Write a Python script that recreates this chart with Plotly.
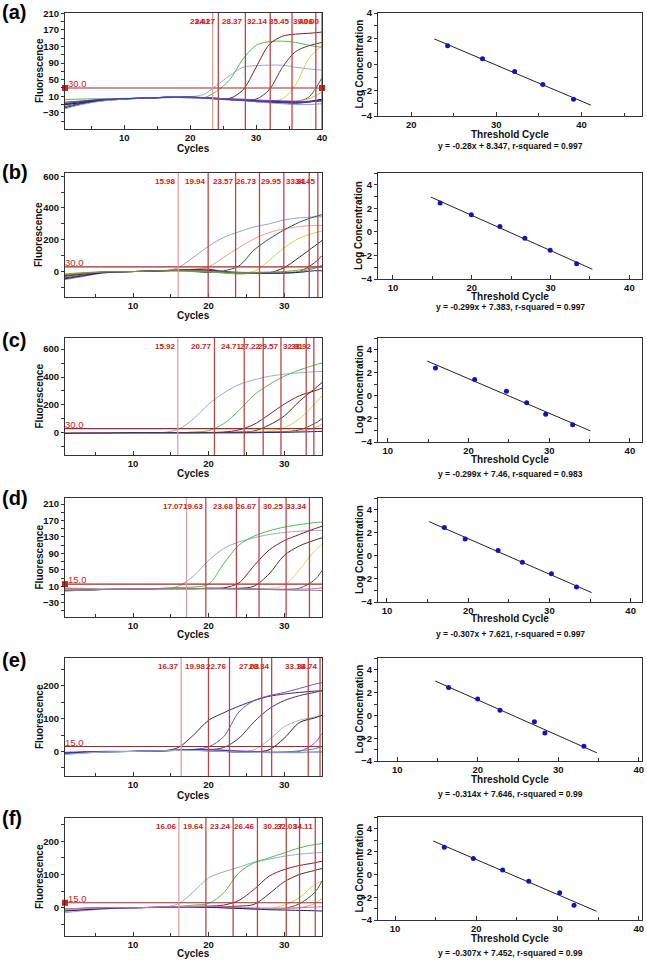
import plotly.graph_objects as go

W, H = 647, 960
FONT = "Liberation Sans, Arial, sans-serif"

# ---------------- amplification data ----------------
a_cycles = [1, 3, 6, 10, 14, 18, 20, 22, 24, 26, 28, 30, 32, 34, 36, 38, 40]
a_curves = [
    [-12, -6, 0, 4, 6, 8, 9, 14, 36, 60, 80, 84, 85, 85, 80, 76, 73],
    [2, 3, 4, 5, 6, 7, 6, 6, 22, 50, 100, 133, 142, 143, 140, 133, 128],
    [-8, -4, 1, 4, 6, 8, 7, 6, 5, 5, 25, 80, 135, 155, 160, 162, 165],
    [-10, -5, 0, 4, 6, 8, 7, 6, 4, 3, 2, 3, 26, 80, 118, 132, 140],
    [-5, -2, 2, 4, 6, 7, 6, 5, 3, 1, 0, -1, -1, 4, 38, 101, 133],
    [-15, -8, -1, 4, 6, 8, 7, 6, 4, 2, 0, -3, -5, -5, -3, 8, 55],
    [-6, -3, 1, 4, 6, 7, 6, 5, 3, 1, -1, -3, -4, -4, -2, 4, 20],
    [-18, -10, -2, 3, 6, 9, 8, 6, 4, 2, 0, -2, -4, -6, -7, -4, 3],
    [-10, -6, 0, 4, 6, 9, 8, 7, 5, 3, 1, -1, -2, -3, -3, -2, 2],
    [-4, -2, 2, 4, 6, 8, 7, 6, 5, 4, 3, 1, 0, -1, -2, -3, -2],
    [-20, -12, -3, 3, 6, 9, 8, 6, 4, 2, 0, -3, -6, -8, -10, -10, -8],
    [-8, -4, 1, 4, 6, 8, 8, 6, 4, 2, 0, -2, -3, -4, -5, -4, 0],
]
a_colors = ["#9aa8d8", "#4cc04c", "#8b1a1a", "#6a3a2a", "#e0c850", "#2e6a3a",
            "#f0a060", "#1a1a80", "#202020", "#9a30c0", "#9aa0a8", "#2040d0"]
a_ct = [23.41, 24.27, 28.37, 32.14, 35.45, 39.06, 40.00]
a_threshold = 30.0

bcf_cycles = [1, 3, 6, 10, 14, 16, 18, 20, 22, 24, 26, 28, 30, 32, 34, 35]

b_curves = [
    [-50, -35, -10, 0, 5, 25, 90, 160, 215, 250, 280, 300, 325, 338, 343, 345],
    [-30, -20, -5, 0, 5, 10, 15, 30, 90, 150, 205, 245, 268, 283, 290, 290],
    [-40, -25, -5, 0, 5, 5, 0, -5, 5, 35, 135, 205, 262, 310, 345, 358],
    [-20, -12, -3, 0, 5, 5, 3, 0, -5, -5, 0, 70, 150, 210, 243, 255],
    [-25, -15, -3, 0, 5, 8, 5, 2, -3, -8, -10, -8, 25, 90, 160, 195],
    [-30, -18, -4, 0, 6, 10, 12, 15, 0, -10, -10, -10, -8, 0, 55, 100],
    [-15, -8, -2, 0, 5, 5, 3, 0, -10, -15, -10, -8, -5, 0, 20, 40],
    [-45, -30, -8, 0, 5, 8, 10, 8, 0, -5, -8, -10, -10, -5, 5, 5],
    [-20, -12, -3, 0, 5, 5, 5, 2, -3, -5, -5, -3, 0, 10, 25, 30],
]
b_colors = ["#9aa0d0", "#f0a080", "#1e5a4a", "#d8c860", "#3a2a2a", "#a01c1c",
            "#50b050", "#1a1a80", "#909040"]
b_ct = [15.98, 19.94, 23.57, 26.73, 29.95, 33.31, 34.45]
b_threshold = 30.0

c_curves = [
    [0, 0, 0, 0, 2, 25, 100, 205, 285, 345, 380, 405, 420, 430, 438, 440],
    [0, 0, 0, 0, 0, 0, 5, 15, 65, 160, 270, 345, 405, 450, 485, 500],
    [0, 0, 0, 0, 0, 0, 0, 2, 5, 20, 60, 130, 205, 265, 300, 320],
    [0, 0, 0, 0, 0, 0, 0, 0, 2, 5, 12, 55, 120, 225, 315, 360],
    [0, 0, 0, 0, 0, 0, 0, 0, 0, 2, 5, 12, 35, 100, 205, 265],
    [0, 0, 0, 0, 0, 0, 0, 0, 0, 0, 2, 5, 8, 20, 65, 100],
    [0, 0, 0, 0, 0, 0, 0, 0, 0, 0, 0, 2, 5, 10, 35, 60],
    [-5, -3, -2, 0, 0, 0, 0, 0, 0, 0, 0, 2, 3, 5, 8, 10],
]
c_colors = ["#9aa8d8", "#4cc04c", "#8b1a2a", "#503020", "#e0c850", "#2e6a3a",
            "#f0a060", "#1a1a80"]
c_ct = [15.92, 20.77, 24.71, 27.22, 29.57, 32.91, 33.92]
c_threshold = 30.0

d_curves = [
    [0, 0, 2, 3, 5, 10, 35, 73, 102, 118, 128, 136, 141, 144, 146, 146],
    [5, 5, 3, 3, 5, 7, 8, 15, 65, 110, 132, 145, 154, 160, 165, 166],
    [0, 1, 2, 3, 4, 4, 4, 5, 6, 18, 60, 98, 121, 136, 150, 156],
    [0, 1, 2, 3, 4, 4, 4, 5, 5, 5, 10, 40, 85, 108, 122, 128],
    [0, 1, 2, 3, 4, 4, 4, 4, 4, 4, 4, 5, 12, 50, 95, 112],
    [0, 0, 2, 3, 4, 4, 4, 4, 4, 4, 3, 2, 2, 5, 25, 48],
    [5, 4, 3, 3, 4, 5, 5, 4, 4, 3, 3, 3, 3, 3, 4, 6],
    [-2, 0, 2, 3, 4, 4, 4, 4, 4, 3, 3, 2, 1, 0, 0, -1],
]
d_colors = ["#9aa8d8", "#4cc04c", "#8b1a2a", "#503020", "#e0d070", "#2e6a3a",
            "#e060c0", "#808890"]
d_ct = [17.07, 19.63, 23.68, 26.67, 30.25, 33.34]
d_threshold = 15.0

e_curves = [
    [-5, -3, -1, 0, 2, 12, 50, 95, 118, 138, 155, 168, 175, 180, 184, 185],
    [-5, -3, -1, 0, 2, 4, 6, 14, 45, 120, 155, 170, 180, 192, 205, 210],
    [-3, -2, 0, 0, 2, 3, 4, 5, 12, 40, 90, 130, 155, 170, 180, 185],
    [-8, -5, -2, 0, 2, 3, 3, 2, 0, -2, 5, 35, 75, 95, 105, 110],
    [-5, -3, -1, 0, 2, 3, 3, 2, 0, -2, -2, 5, 40, 88, 102, 110],
    [-3, -2, 0, 0, 2, 4, 5, 6, 4, 2, 0, -2, -2, 0, 25, 55],
    [-8, -5, -2, 0, 2, 3, 3, 2, 0, -2, -3, -3, -2, 2, 8, 15],
    [-5, -3, -1, 0, 2, 4, 6, 5, 3, 0, -2, -3, -3, -3, -2, -2],
    [-10, -6, -2, 0, 2, 3, 3, 2, 0, -2, -3, -4, -4, -4, -3, -3],
]
e_colors = ["#303050", "#7a50b0", "#503060", "#b0b0b8", "#202020", "#d040c0",
            "#409090", "#2030c0", "#a0b8c8"]
e_ct = [16.37, 19.98, 22.76, 27.03, 28.34, 33.18, 34.74]
e_threshold = 15.0

f_curves = [
    [-15, -10, -4, 0, 2, 12, 48, 90, 108, 122, 137, 146, 155, 161, 165, 166],
    [-5, -3, -1, 0, 2, 4, 8, 13, 45, 105, 135, 150, 165, 180, 190, 193],
    [-3, -2, 0, 0, 2, 3, 4, 5, 8, 22, 55, 95, 115, 127, 135, 140],
    [-8, -5, -2, 0, 2, 3, 3, 3, 3, 5, 10, 42, 78, 100, 112, 118],
    [-5, -3, -1, 0, 2, 3, 3, 2, 0, -2, -3, -3, 8, 30, 70, 80],
    [-3, -2, 0, 0, 2, 3, 3, 2, 0, -2, -3, -3, -2, 12, 45, 80],
    [-8, -5, -2, 0, 2, 3, 3, 2, 1, 0, -2, -3, -3, 0, 12, 28],
    [-10, -7, -3, 0, 1, 2, 2, 1, 0, -2, -4, -6, -7, -8, -9, -10],
    [-3, -2, 0, 0, 2, 3, 4, 5, 3, 1, 0, -1, -1, 0, 2, 3],
]
f_colors = ["#9aa8d8", "#4cc04c", "#8b1a2a", "#503020", "#e0c850", "#2e6a3a",
            "#f0a060", "#1a1a80", "#e070c0"]
f_ct = [16.06, 19.64, 23.24, 26.46, 30.27, 32.03, 34.11]
f_threshold = 15.0

# ---------------- standard curve data ----------------
a_std_x = [24.27, 28.37, 32.14, 35.45, 39.06]
a_std_y = [1.45, 0.45, -0.55, -1.55, -2.7]
b_std_x = [15.98, 19.94, 23.57, 26.73, 29.95, 33.31]
b_std_y = [2.45, 1.45, 0.45, -0.55, -1.55, -2.7]
c_std_x = [15.92, 20.77, 24.71, 27.22, 29.57, 32.91]
c_std_y = [2.4, 1.4, 0.4, -0.6, -1.6, -2.5]
d_std_x = [17.07, 19.63, 23.68, 26.67, 30.25, 33.34]
d_std_y = [2.45, 1.45, 0.45, -0.55, -1.55, -2.7]
e_std_x = [16.37, 19.98, 22.76, 27.03, 28.34, 33.18]
e_std_y = [2.45, 1.45, 0.45, -0.55, -1.55, -2.7]
f_std_x = [16.06, 19.64, 23.24, 26.46, 30.27, 32.03]
f_std_y = [2.4, 1.4, 0.4, -0.6, -1.6, -2.7]

fit_slope = [-0.28, -0.299, -0.299, -0.307, -0.314, -0.307]
fit_intercept = [8.347, 7.383, 7.46, 7.621, 7.646, 7.452]
fit_r2 = [0.997, 0.997, 0.983, 0.997, 0.99, 0.99]
fit_x_start = [22.7, 14.8, 14.9, 15.2, 14.7, 14.7]
fit_x_end = [41.1, 35.3, 35.1, 35.2, 34.8, 34.8]

panel_labels = ["(a)", "(b)", "(c)", "(d)", "(e)", "(f)"]

# ---------------- layout geometry (pixels) ----------------
left_x = (65, 322)
right_x = (378, 642)
left_y = [(13, 129), (173, 297), (338, 455), (498, 617), (658, 776), (818, 936)]
right_y = [(13, 116), (173, 279), (338, 442), (498, 602), (658, 761), (817, 920)]
letter_y = [12, 172, 340, 498, 660, 818]
cycles_title_y = [148, 316, 473, 634, 795, 953]
thr_title_y = [134, 297, 459, 618, 779, 938]
eq_y = [146, 307, 474, 634, 794, 953]
fluor_title_x = 39
logc_title_x = 359

left_xrange = [(1, 40), (1, 35), (1, 35), (1, 35), (1, 35), (1, 35)]
left_yrange = [(-69, 211), (-160, 620), (-160, 680), (-65, 225), (-75, 285), (-85, 270)]
left_ytick = [(10, 40, 20), (0, 200, 100), (0, 200, 100), (10, 40, 20), (0, 100, 50), (0, 100, 50)]
right_xrange = [(16.1, 47.1), (8.1, 41.6), (8.8, 41.5), (8.9, 41.4), (7.6, 40.4), (7.9, 40.4)]
right_yrange = [(-4, 4), (-4, 5), (-4, 5), (-4, 5), (-4, 5.05), (-4, 5.05)]
thr_marker = [("left", "right"), (), (), ("left",), (), ("left",)]


def fx(px):
    return px / W


def fy(px):
    return 1 - px / H


def ax_id(n):
    return ("x", "y") if n == 1 else (f"x{n}", f"y{n}")


def ax_key(n):
    return ("xaxis", "yaxis") if n == 1 else (f"xaxis{n}", f"yaxis{n}")


panels = [
    (a_cycles, a_curves, a_colors, a_ct, a_threshold, a_std_x, a_std_y),
    (bcf_cycles, b_curves, b_colors, b_ct, b_threshold, b_std_x, b_std_y),
    (bcf_cycles, c_curves, c_colors, c_ct, c_threshold, c_std_x, c_std_y),
    (bcf_cycles, d_curves, d_colors, d_ct, d_threshold, d_std_x, d_std_y),
    (bcf_cycles, e_curves, e_colors, e_ct, e_threshold, e_std_x, e_std_y),
    (bcf_cycles, f_curves, f_colors, f_ct, f_threshold, f_std_x, f_std_y),
]

fig = go.Figure()
layout = {}
annotations = []
shapes = []

TICKFONT = dict(family=FONT, size=9.5, color="#111", weight="bold")
TITLEFONT = dict(family=FONT, size=10, color="#111", weight="bold")
RED = "#d42020"


def title_ann(text, x, y, angle=0):
    return dict(x=fx(x), y=fy(y), xref="paper", yref="paper", text=text,
                textangle=angle, xanchor="center", yanchor="middle",
                showarrow=False, font=TITLEFONT)


for i, (cyc, curves, colors, cts, thr, sx, sy) in enumerate(panels):
    nl, nr = 2 * i + 1, 2 * i + 2
    xl, yl = ax_id(nl)
    xr, yr = ax_id(nr)
    kx_l, ky_l = ax_key(nl)
    kx_r, ky_r = ax_key(nr)

    # amplification curves
    for vals, col in zip(curves, colors):
        fig.add_trace(go.Scatter(x=cyc, y=vals, mode="lines",
                                 line=dict(color=col, width=1, shape="spline", smoothing=0.9),
                                 xaxis=xl, yaxis=yl, hoverinfo="skip", showlegend=False))
    # threshold line
    x0, x1 = left_xrange[i]
    fig.add_trace(go.Scatter(x=[x0, x1], y=[thr, thr], mode="lines",
                             line=dict(color="#a82828", width=1.2),
                             xaxis=xl, yaxis=yl, hoverinfo="skip", showlegend=False))
    mx = [x0 if s == "left" else x1 for s in thr_marker[i]]
    if mx:
        fig.add_trace(go.Scatter(x=mx, y=[thr] * len(mx), mode="markers",
                                 marker=dict(symbol="square", size=6, color="#e01818"),
                                 cliponaxis=False, xaxis=xl, yaxis=yl,
                                 hoverinfo="skip", showlegend=False))
    annotations.append(dict(x=x0, y=thr, xref=xl, yref=yl, text=f"{thr:.1f}",
                            xanchor="left", yanchor="bottom", showarrow=False,
                            xshift=1 if mx else -2, yshift=-3,
                            font=dict(family=FONT, size=9.5, color=RED)))
    # Ct vertical lines and labels
    for k, ct in enumerate(cts):
        shapes.append(dict(type="line", xref=xl, yref=f"{yl} domain", x0=ct, x1=ct,
                           y0=0, y1=1,
                           line=dict(color="#dca0a0" if k == 0 else "#b84848", width=1.3)))
        annotations.append(dict(x=ct, y=1, xref=xl, yref=f"{yl} domain", text=f"{ct:.2f}",
                                xanchor="right", yanchor="top", showarrow=False,
                                xshift=0, yshift=-2,
                                font=dict(family=FONT, size=8, color=RED, weight="bold")))

    t0, dt, mdt = left_ytick[i]
    layout[kx_l] = dict(domain=[fx(left_x[0]), fx(left_x[1])], anchor=yl,
                        range=list(left_xrange[i]), tick0=0, dtick=10,
                        showgrid=False, zeroline=False, showline=True, mirror=True,
                        linecolor="#333", linewidth=1, ticks="inside", ticklen=4,
                        tickcolor="#333", tickfont=TICKFONT,
                        minor=dict(tick0=0, dtick=5, ticks="inside", ticklen=3, tickcolor="#333"),
                        automargin=False)
    layout[ky_l] = dict(domain=[fy(left_y[i][1]), fy(left_y[i][0])], anchor=xl,
                        range=list(left_yrange[i]), tick0=t0, dtick=dt,
                        showgrid=False, zeroline=False, showline=True, mirror=True,
                        linecolor="#333", linewidth=1, ticks="outside", ticklen=3,
                        tickcolor="#333", tickfont=TICKFONT,
                        minor=dict(tick0=t0, dtick=mdt, ticks="outside", ticklen=3, tickcolor="#333"),
                        automargin=False)
    annotations.append(title_ann("Cycles", (left_x[0] + left_x[1]) / 2, cycles_title_y[i]))
    annotations.append(title_ann("Fluorescence", fluor_title_x, (left_y[i][0] + left_y[i][1]) / 2, -90))

    # standard curve
    xs0, xs1 = fit_x_start[i], fit_x_end[i]
    fig.add_trace(go.Scatter(x=[xs0, xs1],
                             y=[fit_slope[i] * xs0 + fit_intercept[i], fit_slope[i] * xs1 + fit_intercept[i]],
                             mode="lines", line=dict(color="#222", width=1),
                             xaxis=xr, yaxis=yr, hoverinfo="skip", showlegend=False))
    fig.add_trace(go.Scatter(x=sx, y=sy, mode="markers",
                             marker=dict(symbol="circle", size=5, color="#1414b4"),
                             xaxis=xr, yaxis=yr, hoverinfo="skip", showlegend=False))
    layout[kx_r] = dict(domain=[fx(right_x[0]), fx(right_x[1])], anchor=yr,
                        range=list(right_xrange[i]), tick0=0, dtick=10,
                        showgrid=False, zeroline=False, showline=True, mirror=True,
                        linecolor="#333", linewidth=1, ticks="inside", ticklen=4,
                        tickcolor="#333", tickfont=TICKFONT,
                        minor=dict(tick0=0, dtick=5, ticks="inside", ticklen=3, tickcolor="#333"),
                        automargin=False)
    layout[ky_r] = dict(domain=[fy(right_y[i][1]), fy(right_y[i][0])], anchor=xr,
                        range=list(right_yrange[i]), tick0=0, dtick=2,
                        showgrid=False, zeroline=False, showline=True, mirror=True,
                        linecolor="#333", linewidth=1, ticks="outside", ticklen=3,
                        tickcolor="#333", tickfont=TICKFONT,
                        minor=dict(tick0=0, dtick=1, ticks="outside", ticklen=3, tickcolor="#333"),
                        automargin=False)
    annotations.append(title_ann("Threshold Cycle", (right_x[0] + right_x[1]) / 2, thr_title_y[i]))
    annotations.append(title_ann("Log Concentration", logc_title_x, (right_y[i][0] + right_y[i][1]) / 2, -90))
    annotations.append(dict(x=fx((right_x[0] + right_x[1]) / 2), y=fy(eq_y[i]), xref="paper", yref="paper",
                            text=f"y = {fit_slope[i]}x + {fit_intercept[i]}, r-squared = {fit_r2[i]}",
                            xanchor="center", yanchor="middle", showarrow=False,
                            font=dict(family=FONT, size=8.5, color="#111", weight="bold")))
    annotations.append(dict(x=0, y=fy(letter_y[i]), xref="paper", yref="paper",
                            text=panel_labels[i], xanchor="left", yanchor="middle", showarrow=False,
                            font=dict(family=FONT, size=20, color="#000", weight="bold")))

fig.update_layout(width=W, height=H, margin=dict(l=0, r=0, t=0, b=0),
                  paper_bgcolor="white", plot_bgcolor="white",
                  annotations=annotations, shapes=shapes, showlegend=False,
                  font=dict(family=FONT), **layout)

fig.write_html("out.html", config={"displayModeBar": False},
               post_script="document.body.style.margin='0px';")
